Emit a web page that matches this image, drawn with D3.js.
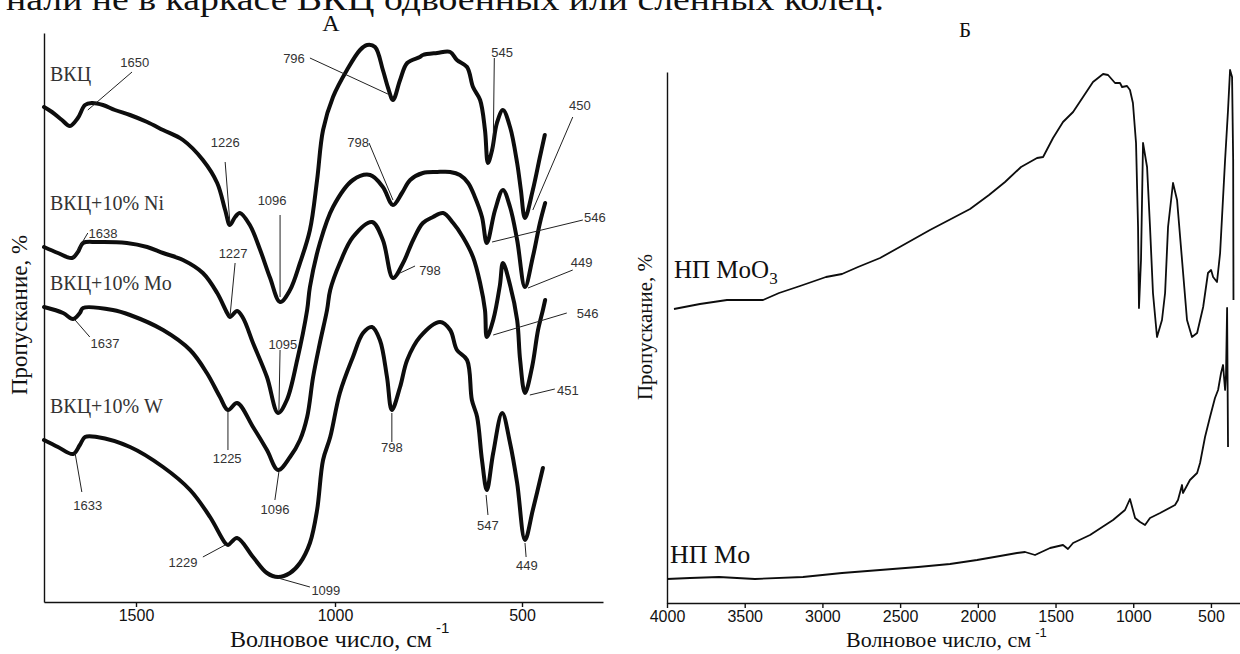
<!DOCTYPE html>
<html>
<head>
<meta charset="utf-8">
<script src="https://cdn.jsdelivr.net/npm/d3@7"></script>
<style>
  body { margin: 0; background: #fff; }
  svg { display: block; }
</style>
</head>
<body>
<svg id="chart" width="1240" height="654"></svg>
<script>
const SERIF = '"Liberation Serif", "Times New Roman", serif';
const SANS = '"Liberation Sans", Arial, sans-serif';

// ---- panel A: IR spectra, [wavenumber, transmittance (arb. units)] ----
const vkc = [[1731,495],[1711,490],[1686,482],[1666,476],[1646,484],[1628,497],[1611,499],[1583,497],[1553,492],[1515,487],[1472,480],[1432,472],[1382,462],[1332,442],[1296,419],[1276,392],[1264,377],[1251,385],[1239,389],[1214,377],[1188,352],[1163,324],[1138,300],[1113,312],[1088,339],[1063,372],[1045,422],[1030,472],[1005,505],[968,532],[933,552],[914,557],[893,555],[872,532],[858,514],[845,502],[826,522],[807,539],[773,545],[765,547],[727,549],[692,550],[674,542],[647,535],[631,515],[612,502],[599,472],[591,439],[580,452],[567,479],[551,492],[532,475],[513,439],[503,412],[492,384],[471,412],[452,445],[439,467]];

const vkcNi = [[1731,355],[1696,349],[1661,344],[1646,350],[1633,359],[1598,360],[1523,359],[1472,355],[1432,349],[1382,342],[1332,329],[1296,309],[1271,289],[1264,285],[1246,291],[1231,284],[1206,259],[1171,225],[1143,189],[1121,202],[1095,242],[1070,292],[1063,315],[1038,359],[1005,395],[952,422],[906,427],[872,415],[845,397],[821,409],[799,422],[765,429],[727,430],[692,430],[666,427],[644,419],[626,405],[607,385],[594,359],[572,392],[551,412],[532,395],[513,362],[492,315],[471,345],[452,379],[438,399]];

const vkcMo = [[1731,295],[1683,289],[1658,283],[1641,289],[1633,294],[1558,292],[1515,287],[1432,272],[1364,252],[1322,229],[1289,205],[1269,192],[1246,199],[1206,175],[1171,152],[1143,132],[1113,145],[1088,162],[1070,185],[1055,225],[1038,259],[1020,292],[1012,312],[987,339],[952,365],[901,380],[872,362],[845,324],[818,339],[791,362],[765,379],[738,385],[711,389],[684,379],[658,365],[631,345],[612,319],[599,292],[594,265],[577,282],[559,317],[551,339],[532,317],[513,282],[505,242],[492,209],[473,235],[457,272],[444,292],[438,302]];

const vkcW = [[1731,162],[1696,155],[1658,148],[1641,157],[1628,165],[1598,165],[1515,155],[1432,135],[1364,112],[1314,85],[1276,59],[1269,57],[1246,64],[1206,45],[1171,29],[1143,25],[1113,29],[1088,39],[1063,59],[1045,92],[1030,142],[1012,165],[987,209],[952,245],[925,269],[901,275],[880,262],[861,225],[848,192],[826,215],[807,242],[773,265],[719,280],[692,272],[674,252],[647,242],[634,202],[620,185],[607,142],[594,112],[577,149],[553,189],[532,159],[513,119],[492,62],[471,92],[444,134]];

const namesA = ['ВКЦ', 'ВКЦ+10% Ni', 'ВКЦ+10% Mo', 'ВКЦ+10% W'];
const ticksA = [1500, 1000, 500];

// peak marks: label, end of leader near label, point on the curve
const peaksA = [
  {text: '1650', label: [1503,535], tail: [1510,530], tip: [1621,492]},
  {text: '1226', label: [1276,455], tail: [1276,440], tip: [1264,379]},
  {text: '1096', label: [1158,397], tail: [1138,387], tip: [1138,305]},
  {text: '796',  label: [1103,539], tail: [1063,544], tip: [853,507]},
  {text: '798',  label: [938,455],  tail: [909,459],  tip: [845,402]},
  {text: '1227', label: [1256,344], tail: [1251,339], tip: [1264,285]},
  {text: '1638', label: [1583,364], tail: [1621,369], tip: [1658,344]},
  {text: '545',  label: [553,545],  tail: [574,544],  tip: [577,452]},
  {text: '450',  label: [345,492],  tail: [364,485],  tip: [471,392]},
  {text: '546',  label: [305,380],  tail: [337,382],  tip: [580,360]},
  {text: '449',  label: [340,335],  tail: [364,332],  tip: [484,314]},
  {text: '798',  label: [746,327],  tail: [786,336],  tip: [826,329]},
  {text: '546',  label: [324,284],  tail: [380,289],  tip: [577,267]},
  {text: '1637', label: [1578,254], tail: [1616,265], tip: [1653,282]},
  {text: '1225', label: [1271,139], tail: [1269,152], tip: [1269,190]},
  {text: '1095', label: [1131,253], tail: [1138,252], tip: [1141,190]},
  {text: '1096', label: [1151,88],  tail: [1151,102], tip: [1141,130]},
  {text: '798',  label: [848,150],  tail: [848,160],  tip: [848,189]},
  {text: '451',  label: [377,207],  tail: [412,213],  tip: [479,207]},
  {text: '1633', label: [1621,92],  tail: [1636,110], tip: [1653,149]},
  {text: '1229', label: [1382,35],  tail: [1332,45],  tip: [1276,57]},
  {text: '1099', label: [1023,7],   tail: [1063,15],  tip: [1143,24]},
  {text: '547',  label: [591,72],   tail: [591,87],   tip: [596,107]},
  {text: '449',  label: [487,32],   tail: [489,45],   tip: [492,59]}
];

// ---- panel Б ----
const npMoO3 = [[3955,294],[3788,299],[3614,303],[3382,303],[3279,310],[3144,317],[2977,326],[2874,329],[2771,336],[2629,345],[2514,355],[2308,373],[2185,383],[2050,394],[1928,408],[1825,421],[1722,436],[1619,445],[1580,446],[1516,465],[1452,481],[1387,491],[1323,506],[1259,521],[1194,529],[1162,528],[1117,520],[1085,520],[1072,516],[1040,517],[1021,513],[1002,500],[982,460],[969,376],[963,295],[950,343],[937,460],[911,436],[892,376],[873,310],[847,266],[815,283],[795,310],[776,376],[744,420],[718,403],[686,343],[654,283],[622,266],[589,270],[550,296],[519,330],[499,333],[486,326],[461,321],[441,350],[409,443],[390,493],[377,533],[364,526],[357,443],[355,303]];

const npMo = [[4000,24],[3852,25],[3665,26],[3434,24],[3125,26],[2874,30],[2629,33],[2385,36],[2179,39],[2005,43],[1857,47],[1748,50],[1696,51],[1632,48],[1535,55],[1452,58],[1420,54],[1387,60],[1278,68],[1130,83],[1053,93],[1021,104],[988,85],[956,81],[924,78],[892,85],[827,90],[731,98],[712,103],[686,118],[680,110],[635,123],[589,130],[570,140],[538,166],[506,186],[474,205],[454,213],[435,230],[422,238],[409,213],[403,228],[396,295],[390,156]];

const namesB = ['НП MoO', 'НП Mo'];
const ticksB = [4000, 3500, 3000, 2500, 2000, 1500, 1000, 500];

const svg = d3.select('#chart');

// clipped line of body text at the very top of the scanned page
svg.append('text')
  .attr('x', 6).attr('y', 10)
  .attr('textLength', 878).attr('lengthAdjust', 'spacingAndGlyphs')
  .style('font-family', SERIF).style('font-size', '32px').style('fill', '#111')
  .text('нали не в каркасе ВКЦ одвоенных или сленных колец.');

// ================= panel A =================
const xA = d3.scaleLinear()
  .domain([1731, 1500, 1000, 500, 283])
  .range([44, 136, 335, 522, 603]);
const yA = d3.scaleLinear().domain([0, 569]).range([602, 33]);

const gA = svg.append('g');

gA.append('g')
  .attr('transform', `translate(0,${yA(0)})`)
  .call(d3.axisBottom(xA).tickValues(ticksA).tickFormat(d3.format('d'))
    .tickSize(5).tickSizeOuter(0).tickPadding(3))
  .call(g => g.selectAll('text').style('font-family', SANS).style('font-size', '16px').attr('fill', '#111'))
  .call(g => g.selectAll('path, line').attr('stroke', '#111').attr('stroke-width', 1.4));

gA.append('g')
  .attr('transform', `translate(${xA.range()[0]},0)`)
  .call(d3.axisLeft(yA).tickValues([]).tickSizeOuter(0))
  .call(g => g.select('path').attr('stroke', '#111').attr('stroke-width', 1.4));

const lineA = d3.line()
  .x(d => xA(d[0]))
  .y(d => yA(d[1]))
  .curve(d3.curveCatmullRom.alpha(0.5));

gA.selectAll('.spec')
  .data([vkc, vkcNi, vkcMo, vkcW])
  .enter().append('path')
  .attr('class', 'spec')
  .attr('d', lineA)
  .attr('fill', 'none')
  .attr('stroke', '#0d0d0d')
  .attr('stroke-width', 4)
  .attr('stroke-linejoin', 'round')
  .attr('stroke-linecap', 'round');

gA.selectAll('.lead')
  .data(peaksA)
  .enter().append('line')
  .attr('class', 'lead')
  .attr('x1', d => xA(d.tail[0])).attr('y1', d => yA(d.tail[1]))
  .attr('x2', d => xA(d.tip[0])).attr('y2', d => yA(d.tip[1]))
  .attr('stroke', '#222').attr('stroke-width', 1);

gA.selectAll('.peak')
  .data(peaksA)
  .enter().append('text')
  .attr('class', 'peak')
  .attr('x', d => xA(d.label[0])).attr('y', d => yA(d.label[1]))
  .attr('text-anchor', 'middle')
  .style('font-family', SANS).style('font-size', '13px').style('fill', '#333')
  .text(d => d.text);

const labelYA = [81, 210, 290, 413];
gA.selectAll('.name')
  .data(namesA)
  .enter().append('text')
  .attr('class', 'name')
  .attr('x', 50).attr('y', (d, i) => labelYA[i])
  .style('font-family', SERIF).style('font-size', '20px').style('fill', '#333')
  .text(d => d);

gA.append('text')
  .attr('x', 331).attr('y', 31).attr('text-anchor', 'middle')
  .style('font-family', SERIF).style('font-size', '24px').style('fill', '#111')
  .text('А');

const xTitleA = gA.append('text')
  .attr('x', 230).attr('y', 647)
  .style('font-family', SERIF).style('font-size', '24px').style('fill', '#111');
xTitleA.append('tspan').text('Волновое число, см');
xTitleA.append('tspan').attr('dx', 4).attr('dy', -14)
  .style('font-family', SANS).style('font-size', '15px').text('-1');

gA.append('text')
  .attr('transform', 'translate(27,315) rotate(-90)')
  .attr('text-anchor', 'middle')
  .style('font-family', SERIF).style('font-size', '23px').style('fill', '#111')
  .text('Пропускание, %');

// ================= panel Б =================
const xB = d3.scaleLinear().domain([4000, 313]).range([667, 1240]);
const yB = d3.scaleLinear().domain([0, 531]).range([603, 72]);

const gB = svg.append('g');

gB.append('g')
  .attr('transform', `translate(0,${yB(0)})`)
  .call(d3.axisBottom(xB).tickValues(ticksB).tickFormat(d3.format('d'))
    .tickSize(5).tickSizeOuter(0).tickPadding(3))
  .call(g => g.selectAll('text').style('font-family', SANS).style('font-size', '16px').attr('fill', '#111'))
  .call(g => g.selectAll('path, line').attr('stroke', '#111').attr('stroke-width', 1.4));

gB.append('g')
  .attr('transform', `translate(${xB(4000)},0)`)
  .call(d3.axisLeft(yB).tickValues([]).tickSizeOuter(0))
  .call(g => g.select('path').attr('stroke', '#111').attr('stroke-width', 1.4));

const lineB = d3.line()
  .x(d => xB(d[0]))
  .y(d => yB(d[1]));

gB.selectAll('.spec')
  .data([npMoO3, npMo])
  .enter().append('path')
  .attr('class', 'spec')
  .attr('d', lineB)
  .attr('fill', 'none')
  .attr('stroke', '#0d0d0d')
  .attr('stroke-width', 1.8)
  .attr('stroke-linejoin', 'round');

const moo3 = gB.append('text')
  .attr('x', 674).attr('y', 278)
  .style('font-family', SERIF).style('font-size', '25px').style('fill', '#111');
moo3.append('tspan').text(namesB[0]);
moo3.append('tspan').attr('dy', 6).style('font-size', '17px').text('3');

gB.append('text')
  .attr('x', 670).attr('y', 563)
  .style('font-family', SERIF).style('font-size', '26px').style('fill', '#111')
  .text(namesB[1]);

gB.append('text')
  .attr('x', 965).attr('y', 37).attr('text-anchor', 'middle')
  .style('font-family', SERIF).style('font-size', '21px').style('fill', '#111')
  .text('Б');

const xTitleB = gB.append('text')
  .attr('x', 846).attr('y', 647)
  .style('font-family', SERIF).style('font-size', '22px').style('fill', '#111');
xTitleB.append('tspan').text('Волновое число, см');
xTitleB.append('tspan').attr('dx', 4).attr('dy', -10)
  .style('font-family', SANS).style('font-size', '13px').text('-1');

gB.append('text')
  .attr('transform', 'translate(652,327) rotate(-90)')
  .attr('text-anchor', 'middle')
  .style('font-family', SERIF).style('font-size', '21px').style('fill', '#111')
  .text('Пропускание, %');
</script>
</body>
</html>
